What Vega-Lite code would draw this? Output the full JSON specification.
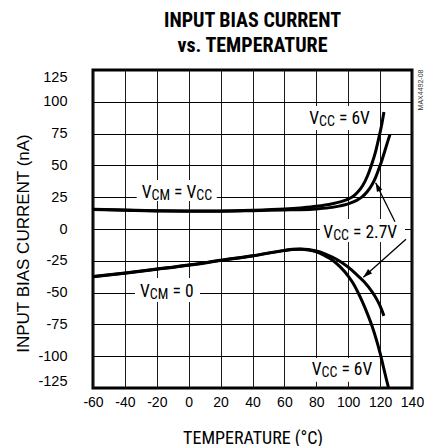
{
  "$schema": "https://vega.github.io/schema/vega-lite/v6.json",
  "autosize": {"type": "none"},
  "width": 319,
  "height": 318,
  "padding": {"left": 93, "top": 70, "right": 12, "bottom": 58},
  "background": "white",
  "view": {"stroke": "black", "strokeWidth": 3},
  "title": {
    "text": ["INPUT BIAS CURRENT", "vs. TEMPERATURE"],
    "font": "Roboto Condensed, Liberation Sans",
    "fontWeight": "bold",
    "fontSize": 20,
    "lineHeight": 25.5,
    "anchor": "middle",
    "frame": "group",
    "color": "black",
    "offset": 13
  },
  "datasets": {
    "curves": [
      {"series": "VCM=VCC 6V", "t": -60, "ib": 15.5},
      {"series": "VCM=VCC 6V", "t": -40, "ib": 14.9},
      {"series": "VCM=VCC 6V", "t": -20, "ib": 14.4},
      {"series": "VCM=VCC 6V", "t": 0, "ib": 14.2},
      {"series": "VCM=VCC 6V", "t": 20, "ib": 14.2},
      {"series": "VCM=VCC 6V", "t": 40, "ib": 14.7},
      {"series": "VCM=VCC 6V", "t": 60, "ib": 15.7},
      {"series": "VCM=VCC 6V", "t": 70, "ib": 16.6},
      {"series": "VCM=VCC 6V", "t": 80, "ib": 17.8},
      {"series": "VCM=VCC 6V", "t": 90, "ib": 19.8},
      {"series": "VCM=VCC 6V", "t": 95, "ib": 21.3},
      {"series": "VCM=VCC 6V", "t": 100, "ib": 23.5},
      {"series": "VCM=VCC 6V", "t": 103, "ib": 25.5},
      {"series": "VCM=VCC 6V", "t": 106, "ib": 29},
      {"series": "VCM=VCC 6V", "t": 109, "ib": 34},
      {"series": "VCM=VCC 6V", "t": 112, "ib": 41.5},
      {"series": "VCM=VCC 6V", "t": 114.5, "ib": 50},
      {"series": "VCM=VCC 6V", "t": 117, "ib": 60},
      {"series": "VCM=VCC 6V", "t": 119, "ib": 70.5},
      {"series": "VCM=VCC 6V", "t": 121, "ib": 82},
      {"series": "VCM=VCC 6V", "t": 122.4, "ib": 92},
      {"series": "VCM=VCC 2.7V", "t": -60, "ib": 15.3},
      {"series": "VCM=VCC 2.7V", "t": -40, "ib": 14.7},
      {"series": "VCM=VCC 2.7V", "t": -20, "ib": 14.2},
      {"series": "VCM=VCC 2.7V", "t": 0, "ib": 14},
      {"series": "VCM=VCC 2.7V", "t": 20, "ib": 14},
      {"series": "VCM=VCC 2.7V", "t": 40, "ib": 14.4},
      {"series": "VCM=VCC 2.7V", "t": 60, "ib": 15},
      {"series": "VCM=VCC 2.7V", "t": 70, "ib": 15.2},
      {"series": "VCM=VCC 2.7V", "t": 80, "ib": 15.8},
      {"series": "VCM=VCC 2.7V", "t": 90, "ib": 17},
      {"series": "VCM=VCC 2.7V", "t": 95, "ib": 18.2},
      {"series": "VCM=VCC 2.7V", "t": 100, "ib": 19.8},
      {"series": "VCM=VCC 2.7V", "t": 105, "ib": 22.3},
      {"series": "VCM=VCC 2.7V", "t": 108.5, "ib": 25},
      {"series": "VCM=VCC 2.7V", "t": 112, "ib": 29.5},
      {"series": "VCM=VCC 2.7V", "t": 115, "ib": 35},
      {"series": "VCM=VCC 2.7V", "t": 117, "ib": 40},
      {"series": "VCM=VCC 2.7V", "t": 119, "ib": 46.5},
      {"series": "VCM=VCC 2.7V", "t": 121, "ib": 53.5},
      {"series": "VCM=VCC 2.7V", "t": 123, "ib": 61.5},
      {"series": "VCM=VCC 2.7V", "t": 124.7, "ib": 68.5},
      {"series": "VCM=VCC 2.7V", "t": 126.2, "ib": 74.4},
      {"series": "VCM=0 6V", "t": -60, "ib": -37.5},
      {"series": "VCM=0 6V", "t": -40, "ib": -34.8},
      {"series": "VCM=0 6V", "t": -20, "ib": -31.7},
      {"series": "VCM=0 6V", "t": 0, "ib": -28.5},
      {"series": "VCM=0 6V", "t": 20, "ib": -24.8},
      {"series": "VCM=0 6V", "t": 40, "ib": -21.2},
      {"series": "VCM=0 6V", "t": 60, "ib": -17},
      {"series": "VCM=0 6V", "t": 65, "ib": -16.2},
      {"series": "VCM=0 6V", "t": 70, "ib": -16},
      {"series": "VCM=0 6V", "t": 75, "ib": -16.5},
      {"series": "VCM=0 6V", "t": 80, "ib": -18},
      {"series": "VCM=0 6V", "t": 85, "ib": -20.8},
      {"series": "VCM=0 6V", "t": 90, "ib": -24.3},
      {"series": "VCM=0 6V", "t": 95, "ib": -29.8},
      {"series": "VCM=0 6V", "t": 100, "ib": -37},
      {"series": "VCM=0 6V", "t": 103, "ib": -42.5},
      {"series": "VCM=0 6V", "t": 106, "ib": -49.5},
      {"series": "VCM=0 6V", "t": 109, "ib": -57.5},
      {"series": "VCM=0 6V", "t": 112, "ib": -66.5},
      {"series": "VCM=0 6V", "t": 115, "ib": -76.5},
      {"series": "VCM=0 6V", "t": 118, "ib": -88.5},
      {"series": "VCM=0 6V", "t": 120, "ib": -97.5},
      {"series": "VCM=0 6V", "t": 122, "ib": -108},
      {"series": "VCM=0 6V", "t": 124, "ib": -118.5},
      {"series": "VCM=0 6V", "t": 125.3, "ib": -125},
      {"series": "VCM=0 2.7V", "t": -60, "ib": -37.3},
      {"series": "VCM=0 2.7V", "t": -40, "ib": -34.6},
      {"series": "VCM=0 2.7V", "t": -20, "ib": -31.5},
      {"series": "VCM=0 2.7V", "t": 0, "ib": -28.3},
      {"series": "VCM=0 2.7V", "t": 20, "ib": -24.6},
      {"series": "VCM=0 2.7V", "t": 40, "ib": -21},
      {"series": "VCM=0 2.7V", "t": 60, "ib": -16.8},
      {"series": "VCM=0 2.7V", "t": 65, "ib": -16},
      {"series": "VCM=0 2.7V", "t": 70, "ib": -15.8},
      {"series": "VCM=0 2.7V", "t": 75, "ib": -16.2},
      {"series": "VCM=0 2.7V", "t": 80, "ib": -17.3},
      {"series": "VCM=0 2.7V", "t": 85, "ib": -19.3},
      {"series": "VCM=0 2.7V", "t": 90, "ib": -22},
      {"series": "VCM=0 2.7V", "t": 95, "ib": -25.5},
      {"series": "VCM=0 2.7V", "t": 100, "ib": -30},
      {"series": "VCM=0 2.7V", "t": 105, "ib": -35.5},
      {"series": "VCM=0 2.7V", "t": 110, "ib": -41.5},
      {"series": "VCM=0 2.7V", "t": 115, "ib": -49.5},
      {"series": "VCM=0 2.7V", "t": 118, "ib": -55.5},
      {"series": "VCM=0 2.7V", "t": 120, "ib": -60.5},
      {"series": "VCM=0 2.7V", "t": 122.4, "ib": -68.3}
    ],
    "boxes": [
      {"t": 72.9, "t2": 117.4, "ib": 77.8, "ib2": 96.7},
      {"t": 74.8, "t2": 118, "ib": -101.4, "ib2": -120},
      {"t": 82.3, "t2": 135.6, "ib": 7.9, "ib2": -10.2},
      {"t": -32.6, "t2": 17.6, "ib": 22, "ib2": 38.5},
      {"t": -33.7, "t2": 7.1, "ib": -38.5, "ib2": -57.4}
    ],
    "labels": [
      {"t": 75.6, "ib": 82.3, "text": "V", "role": "main"},
      {"t": 81.75, "ib": 82.3, "text": "CC", "role": "sub"},
      {"t": 94.25, "ib": 82.3, "text": "= 6V", "role": "main"},
      {"t": 77.1, "ib": -114.8, "text": "V", "role": "main"},
      {"t": 83.25, "ib": -114.8, "text": "CC", "role": "sub"},
      {"t": 95.75, "ib": -114.8, "text": "= 6V", "role": "main"},
      {"t": 84.4, "ib": -6.7, "text": "V", "role": "main"},
      {"t": 90.55, "ib": -6.7, "text": "CC", "role": "sub"},
      {"t": 103.05, "ib": -6.7, "text": "= 2.7V", "role": "main"},
      {"t": -29.5, "ib": 24, "text": "V", "role": "main"},
      {"t": -23.35, "ib": 24, "text": "CM", "role": "sub"},
      {"t": -9.15, "ib": 24, "text": "= V", "role": "main"},
      {"t": 4.75, "ib": 24, "text": "CC", "role": "sub"},
      {"t": -30.5, "ib": -53.2, "text": "V", "role": "main"},
      {"t": -24.35, "ib": -53.2, "text": "CM", "role": "sub"},
      {"t": -10.15, "ib": -53.2, "text": "= 0", "role": "main"}
    ],
    "arrows": [
      {"id": "upper", "t": 129.3, "ib": 5.7, "t2": 117.2, "ib2": 36.4},
      {"id": "lower", "t": 136.2, "ib": -8.1, "t2": 109.5, "ib2": -38}
    ],
    "heads": [
      {"id": "upper", "t": 117.2, "ib": 36.4},
      {"id": "lower", "t": 109.5, "ib": -38}
    ],
    "tag": [
      {"t": 145.6, "ib": 109.3, "text": "MAX4492-08"}
    ]
  },
  "encoding": {
    "x": {
      "field": "t",
      "type": "quantitative",
      "scale": {"domain": [-60, 140], "nice": false, "zero": false},
      "axis": {
        "title": "TEMPERATURE (°C)",
        "values": [-60, -40, -20, 0, 20, 40, 60, 80, 100, 120, 140],
        "labelExpr": "'' + datum.value",
        "labelOverlap": false,
        "labelFlush": false,
        "grid": true,
        "gridColor": "#1a1a1a",
        "gridWidth": 1,
        "ticks": false,
        "domain": false,
        "labelFont": "Liberation Sans",
        "labelFontSize": 14,
        "labelColor": "black",
        "labelPadding": 7,
        "encode": {
          "labels": {
            "update": {
              "dx": {"signal": "datum.value === 140 ? -10 : datum.value === 120 ? -4 : datum.value === 100 ? -3.5 : datum.value === -60 ? -2 : 0"}
            }
          }
        },
        "titleFont": "Roboto Condensed, Liberation Sans",
        "titleFontSize": 18,
        "titleFontWeight": "normal",
        "titleColor": "black",
        "titleBaseline": "alphabetic",
        "titleY": 55
      }
    },
    "y": {
      "field": "ib",
      "type": "quantitative",
      "scale": {"domain": [-125, 125], "nice": false, "zero": false},
      "axis": {
        "title": "INPUT BIAS CURRENT (nA)",
        "values": [-125, -100, -75, -50, -25, 0, 25, 50, 75, 100, 125],
        "labelExpr": "'' + datum.value",
        "labelOverlap": false,
        "grid": true,
        "gridColor": "black",
        "gridWidth": 1,
        "ticks": false,
        "domain": false,
        "labelFlush": true,
        "labelFont": "Liberation Sans",
        "labelFontSize": 14.5,
        "labelColor": "black",
        "labelPadding": 26,
        "titleFont": "Liberation Sans",
        "titleFontSize": 17,
        "titleFontWeight": "normal",
        "titleColor": "black",
        "titleBaseline": "alphabetic",
        "titleX": -65,
        "titleY": 173
      }
    }
  },
  "layer": [
    {
      "data": {"name": "boxes"},
      "mark": {"type": "rect", "fill": "white", "strokeWidth": 0},
      "encoding": {
        "x2": {"field": "t2"},
        "y2": {"field": "ib2"}
      }
    },
    {
      "data": {"name": "curves"},
      "mark": {"type": "line", "color": "black", "strokeWidth": 3, "interpolate": "monotone", "strokeCap": "butt"},
      "encoding": {
        "detail": {"field": "series"}
      }
    },
    {
      "data": {"name": "arrows"},
      "mark": {"type": "rule", "color": "black", "strokeWidth": 1.3},
      "encoding": {
        "x2": {"field": "t2"},
        "y2": {"field": "ib2"}
      }
    },
    {
      "data": {"name": "heads"},
      "transform": [{"filter": "datum.id === 'upper'"}],
      "mark": {"type": "point", "shape": "M0,0L-0.6,1.8L0.6,1.8Z", "filled": true, "color": "black", "opacity": 1, "size": 100, "angle": 333.7}
    },
    {
      "data": {"name": "heads"},
      "transform": [{"filter": "datum.id === 'lower'"}],
      "mark": {"type": "point", "shape": "M0,0L-0.6,1.8L0.6,1.8Z", "filled": true, "color": "black", "opacity": 1, "size": 100, "angle": 228.3}
    },
    {
      "data": {"name": "labels"},
      "transform": [{"filter": "datum.role === 'main'"}],
      "mark": {"type": "text", "font": "Roboto Condensed, Liberation Sans", "fontSize": 17.5, "align": "left", "baseline": "alphabetic", "color": "black"},
      "encoding": {"text": {"field": "text"}}
    },
    {
      "data": {"name": "labels"},
      "transform": [{"filter": "datum.role === 'sub'"}],
      "mark": {"type": "text", "font": "Roboto Condensed, Liberation Sans", "fontSize": 14, "align": "left", "baseline": "alphabetic", "dy": 2, "color": "black"},
      "encoding": {"text": {"field": "text"}}
    },
    {
      "data": {"name": "tag"},
      "mark": {"type": "text", "font": "Liberation Sans", "fontSize": 7, "align": "center", "baseline": "middle", "angle": 270, "color": "#333"},
      "encoding": {"text": {"field": "text"}}
    }
  ]
}
